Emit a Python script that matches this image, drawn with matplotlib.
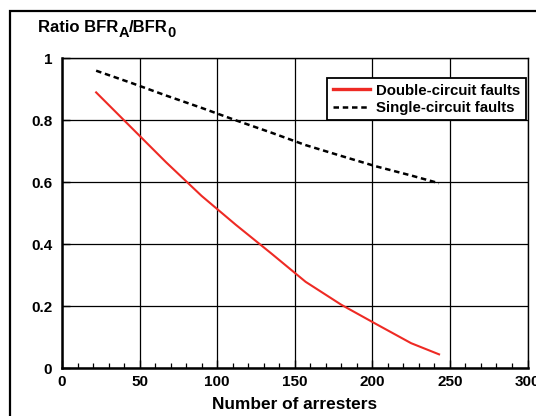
import numpy as np
import matplotlib
matplotlib.use("Agg")
import matplotlib.pyplot as plt
from matplotlib.patches import Rectangle
from matplotlib.ticker import MultipleLocator

plt.rcParams['font.family'] = ['Liberation Sans', 'DejaVu Sans']
plt.rcParams['font.weight'] = 'bold'

# values
arresters = [22, 45, 67, 90, 112, 135, 157, 180, 202, 225, 243]
double_circuit = [0.890, 0.775, 0.665, 0.556, 0.463, 0.370, 0.279, 0.205, 0.144, 0.081, 0.045]
single_circuit = [0.960, 0.920, 0.880, 0.840, 0.800, 0.760, 0.720, 0.685, 0.652, 0.622, 0.597]

x_ticks = [0, 50, 100, 150, 200, 250, 300]
y_ticks = [0, 0.2, 0.4, 0.6, 0.8, 1]
y_tick_labels = ["0", "0.2", "0.4", "0.6", "0.8", "1"]

W, H = 536, 416
fig = plt.figure(figsize=(W / 100, H / 100), dpi=100)
ax = fig.add_axes([62 / W, 1 - 368.3 / H, 465.5 / W, 310 / H])

# outer frame of the original figure (cut off at right and bottom)
fig.patches.append(Rectangle((10 / W, -0.2), 1.2, 1 - 10.5 / H + 0.2,
                             transform=fig.transFigure, fill=False,
                             edgecolor="black", linewidth=1.6, clip_on=False))

ax.plot(arresters, double_circuit, color="#ee2a24", linewidth=1.5,
        label="Double-circuit faults")
ax.plot(arresters, single_circuit, color="black", linewidth=1.8,
        dashes=(2.2, 1.5), label="Single-circuit faults")

ax.set_xlim(0, 300)
ax.set_ylim(0, 1)
ax.set_xticks(x_ticks)
ax.set_yticks(y_ticks)
ax.set_yticklabels(y_tick_labels)
ax.xaxis.set_minor_locator(MultipleLocator(10))
ax.grid(True, which="major", color="black", linewidth=0.9)
ax.set_axisbelow(True)

ax.tick_params(axis="both", which="major", direction="in", length=6,
               width=1, labelsize=11, colors="black")
ax.tick_params(axis="x", which="major", pad=5)
ax.tick_params(axis="y", which="major", pad=7)
ax.tick_params(axis="x", which="minor", direction="in", length=3.5, width=0.9)

for side in ["left", "bottom"]:
    ax.spines[side].set_linewidth(1.8)
for side in ["top", "right"]:
    ax.spines[side].set_linewidth(1.0)

ax.set_xlabel("Number of arresters", fontsize=12.4, fontweight="bold")
ax.xaxis.set_label_coords(0.5, -0.094)

# y-axis title with big subscripts, built from pieces
r = fig.canvas.get_renderer()
base = H - 31.7
x = 38.0
for txt, size, dy in [("Ratio BFR", 12, 0), ("A", 10.5, -5),
                      ("/BFR", 12, 0), ("0", 10.5, -5)]:
    t = fig.text(x / W, (base + dy) / H, txt, fontsize=size,
                 fontweight="bold", ha="left", va="baseline")
    x = t.get_window_extent(r).x1

leg = ax.legend(loc="upper right", bbox_to_anchor=(0.996, 0.935),
                borderaxespad=0, fontsize=10.8, handlelength=2.5,
                fancybox=False, framealpha=1, edgecolor="black",
                borderpad=0.35, labelspacing=0.22, handletextpad=0.4)
leg.get_frame().set_linewidth(1.3)
leg.legend_handles[0].set_linewidth(2.4)
for t in leg.get_texts():
    t.set_fontweight("bold")

fig.savefig("out.png", dpi=100)
